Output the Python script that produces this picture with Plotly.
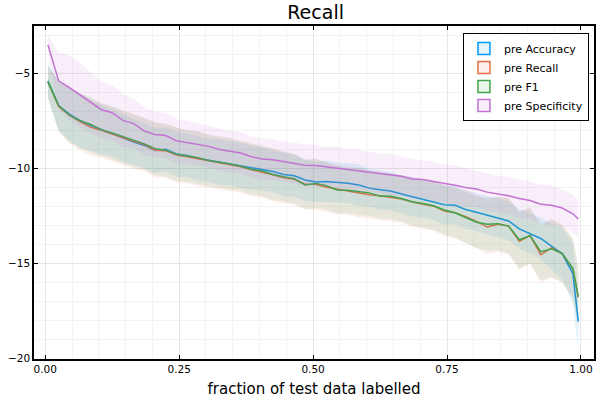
import numpy as np
import plotly.graph_objects as go

# fraction of test data labelled
frac = [0.005, 0.025, 0.045, 0.065, 0.085, 0.105, 0.125, 0.145, 0.165, 0.185,
        0.205, 0.225, 0.245, 0.265, 0.285, 0.305, 0.325, 0.345, 0.365, 0.385,
        0.405, 0.425, 0.445, 0.465, 0.485, 0.505, 0.525, 0.545, 0.565, 0.585,
        0.605, 0.625, 0.645, 0.665, 0.685, 0.705, 0.725, 0.745, 0.765, 0.785,
        0.805, 0.825, 0.845, 0.865, 0.885, 0.905, 0.925, 0.945, 0.965, 0.985,
        0.995]

acc_mean = [-5.4, -6.7, -7.15, -7.49, -7.75, -7.97, -8.15, -8.38, -8.62, -8.8,
            -9.07, -9.0, -9.25, -9.33, -9.48, -9.58, -9.68, -9.75, -9.85, -9.98,
            -10.04, -10.17, -10.33, -10.4, -10.62, -10.73, -10.7, -10.75, -10.79, -10.88,
            -11.05, -11.14, -11.2, -11.36, -11.5, -11.6, -11.74, -11.92, -11.95, -12.18,
            -12.32, -12.48, -12.6, -12.78, -13.2, -13.43, -13.7, -14.1, -14.5, -15.55,
            -18.07]
acc_sd = [0.9, 1.3, 1.4, 1.4, 1.35, 1.3, 1.25, 1.25, 1.2, 1.2,
          1.2, 1.15, 1.2, 1.15, 1.15, 1.15, 1.2, 1.15, 1.2, 1.15,
          1.15, 1.1, 1.15, 1.1, 1.1, 1.05, 1.1, 1.05, 1.05, 1.1,
          1.0, 1.05, 1.0, 1.0, 1.05, 1.0, 1.0, 1.05, 1.0, 1.0,
          1.0, 1.0, 1.05, 1.0, 1.05, 1.05, 1.1, 1.2, 1.35, 1.6,
          1.6]

rec_mean = [-5.45, -6.75, -7.2, -7.55, -7.85, -8.0, -8.2, -8.4, -8.58, -8.75,
            -9.05, -9.08, -9.3, -9.4, -9.5, -9.62, -9.72, -9.8, -9.93, -10.08,
            -10.2, -10.35, -10.5, -10.58, -10.85, -10.85, -11.0, -11.1, -11.2, -11.28,
            -11.4, -11.45, -11.55, -11.62, -11.78, -11.9, -12.0, -12.25, -12.35, -12.55,
            -12.8, -13.1, -12.95, -13.05, -13.85, -13.55, -14.55, -14.2, -14.5, -15.3,
            -16.8]
rec_sd = [0.85, 1.35, 1.5, 1.5, 1.5, 1.45, 1.45, 1.4, 1.45, 1.4,
          1.45, 1.4, 1.45, 1.4, 1.45, 1.4, 1.4, 1.4, 1.35, 1.4,
          1.35, 1.4, 1.35, 1.35, 1.3, 1.35, 1.3, 1.3, 1.25, 1.3,
          1.25, 1.3, 1.25, 1.25, 1.3, 1.3, 1.3, 1.35, 1.35, 1.4,
          1.4, 1.45, 1.45, 1.5, 1.5, 1.5, 1.5, 1.55, 1.55, 1.6,
          1.6]

f1_mean = [-5.45, -6.7, -7.2, -7.5, -7.7, -7.98, -8.15, -8.35, -8.55, -8.72,
           -8.97, -9.05, -9.27, -9.37, -9.45, -9.6, -9.68, -9.78, -9.9, -10.05,
           -10.15, -10.33, -10.45, -10.55, -10.88, -10.8, -10.92, -11.15, -11.16, -11.22,
           -11.3, -11.47, -11.48, -11.6, -11.77, -11.86, -11.98, -12.2, -12.35, -12.6,
           -12.85, -12.95, -12.92, -13.05, -13.77, -13.55, -14.4, -14.25, -14.5, -15.28,
           -16.76]
f1_sd = [0.85, 1.3, 1.45, 1.45, 1.45, 1.4, 1.4, 1.4, 1.4, 1.35,
         1.4, 1.4, 1.4, 1.35, 1.4, 1.35, 1.35, 1.35, 1.3, 1.35,
         1.3, 1.35, 1.3, 1.3, 1.3, 1.3, 1.25, 1.25, 1.2, 1.25,
         1.2, 1.2, 1.2, 1.2, 1.25, 1.25, 1.25, 1.3, 1.3, 1.35,
         1.35, 1.4, 1.4, 1.45, 1.5, 1.45, 1.5, 1.5, 1.5, 1.55,
         1.55]

spec_mean = [-3.5, -5.4, -5.75, -6.15, -6.55, -6.92, -7.08, -7.48, -7.65, -8.05,
             -8.22, -8.28, -8.56, -8.65, -8.75, -8.85, -9.02, -9.12, -9.2, -9.4,
             -9.52, -9.55, -9.65, -9.75, -9.85, -9.86, -9.93, -9.97, -10.05, -10.13,
             -10.18, -10.28, -10.35, -10.42, -10.57, -10.6, -10.7, -10.82, -10.9, -11.02,
             -11.1, -11.26, -11.34, -11.45, -11.6, -11.7, -11.9, -11.95, -12.1, -12.4,
             -12.68]
spec_sd = [0.5, 1.5, 1.7, 1.7, 1.6, 1.5, 1.45, 1.4, 1.3, 1.25,
           1.2, 1.2, 1.15, 1.15, 1.1, 1.1, 1.1, 1.1, 1.1, 1.05,
           1.1, 1.1, 1.05, 1.1, 1.1, 1.1, 1.05, 1.1, 1.05, 1.1,
           1.05, 1.05, 1.1, 1.05, 1.05, 1.0, 1.05, 1.0, 1.05, 1.0,
           0.95, 1.0, 0.95, 1.0, 1.0, 1.0, 1.05, 1.05, 1.0, 1.0,
           1.0]

series_names = ["pre Accuracy", "pre Recall", "pre F1", "pre Specificity"]
x_ticks = [0.0, 0.25, 0.5, 0.75, 1.0]
x_tick_text = ["0.00", "0.25", "0.50", "0.75", "1.00"]
y_ticks = [-20, -15, -10, -5]
y_tick_text = ["\u221220", "\u221215", "\u221210", "\u22125"]

colors = ["0,154,250", "227,111,71", "62,164,78", "195,113,210"]
FONT = "DejaVu Sans"
FILL_ALPHA = 0.11


def ribbon_traces(x, mean, sd, rgb, name):
    """Line with a shaded +/- band, like a Plots.jl ribbon."""
    x = np.asarray(x)
    mean = np.asarray(mean)
    sd = np.asarray(sd)
    upper = mean + sd
    lower = mean - sd
    band = go.Scatter(
        x=np.concatenate([x, x[::-1]]),
        y=np.concatenate([upper, lower[::-1]]),
        fill='toself',
        fillcolor=f'rgba({rgb},{FILL_ALPHA})',
        line=dict(width=0),
        mode='lines',
        hoverinfo='skip',
        showlegend=False,
    )
    line = go.Scatter(
        x=x, y=mean,
        mode='lines',
        line=dict(color=f'rgb({rgb})', width=1.5),
        showlegend=False,
        name=name,
    )
    # legend swatch: outlined box with light fill
    swatch = go.Bar(
        x=[None], y=[None],
        marker=dict(color=f'rgba({rgb},{FILL_ALPHA})', line=dict(color=f'rgb({rgb})', width=1.5)),
        name=name,
    )
    return [band, line, swatch]


fig = go.Figure()
all_data = [(acc_mean, acc_sd), (rec_mean, rec_sd), (f1_mean, f1_sd), (spec_mean, spec_sd)]
for (m, s), rgb, name in zip(all_data, colors, series_names):
    fig.add_traces(ribbon_traces(frac, m, s, rgb, name))

axis_common = dict(
    showline=True,
    linecolor='black',
    linewidth=1.5,
    mirror='ticks',
    ticks='inside',
    ticklen=4,
    tickcolor='black',
    showgrid=True,
    gridcolor='#e6e6e6',
    gridwidth=1,
    zeroline=False,
    tickfont=dict(family=FONT, size=10.5, color='black'),
)

fig.update_layout(
    width=600, height=400,
    margin=dict(l=34, r=4, t=26, b=41),
    paper_bgcolor='white',
    plot_bgcolor='white',
    title=dict(text="Recall", x=0.526, xref='container', y=0.968, yref='container',
               xanchor='center', yanchor='middle',
               font=dict(family=FONT, size=19, color='black')),
    xaxis=dict(
        axis_common,
        range=[-0.021, 1.0244],
        tickvals=x_ticks, ticktext=x_tick_text,
        minor=dict(dtick=0.05, tick0=0, showgrid=True, gridcolor='#f3f3f3', ticks=''),
        title=dict(text="fraction of test data labelled", standoff=9,
                   font=dict(family=FONT, size=15, color='black')),
    ),
    yaxis=dict(
        axis_common,
        range=[-20.05, -2.51],
        tickvals=y_ticks, ticktext=y_tick_text,
        minor=dict(dtick=1, tick0=0, showgrid=True, gridcolor='#f3f3f3', ticks=''),
    ),
    legend=dict(
        x=0.991, y=0.979, xanchor='right', yanchor='top',
        bgcolor='white', bordercolor='black', borderwidth=1,
        font=dict(family=FONT, size=11, color='black'),
        tracegroupgap=0,
    ),
    showlegend=True,
)

# the page's default body margin would push the 600x400 figure off the window
fig.write_html("out.html", config={'displayModeBar': False},
               post_script="document.body.style.margin='0';")
